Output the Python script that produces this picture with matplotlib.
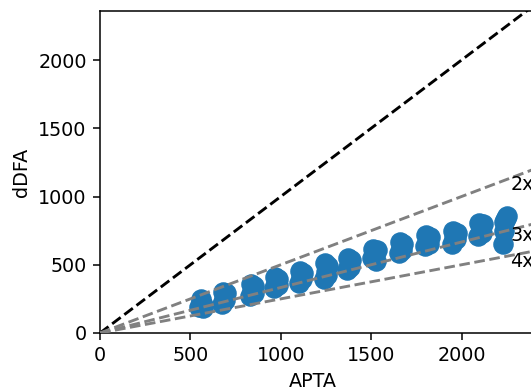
import matplotlib
matplotlib.use("Agg")
import matplotlib.pyplot as plt
import numpy as np

# APTA vs dDFA measurements, grouped by run
apta = [
    548, 560, 572, 556, 568,
    674, 688, 698, 680, 692,
    830, 842, 853, 835, 850,
    962, 975, 986, 968, 982,
    1100, 1112, 1123, 1105, 1120,
    1240, 1250, 1260, 1245, 1258,
    1367, 1378, 1388, 1370, 1385,
    1507, 1520, 1533, 1512, 1528,
    1652, 1665, 1678, 1658, 1672,
    1800, 1812, 1826, 1805, 1820,
    1947, 1960, 1973, 1952, 1968,
    2092, 2105, 2118, 2098, 2112,
    2232, 2245, 2253, 2238, 2235, 2229,
]
ddfa = [
    190, 225, 205, 250, 182,
    215, 255, 290, 302, 240,
    270, 310, 345, 362, 295,
    328, 370, 395, 412, 350,
    365, 415, 440, 456, 392,
    395, 445, 490, 512, 425,
    465, 500, 535, 552, 485,
    548, 580, 605, 615, 530,
    585, 620, 650, 668, 605,
    640, 680, 705, 715, 655,
    655, 700, 735, 750, 685,
    710, 755, 795, 805, 735,
    812, 840, 855, 830, 745, 655,
]

ratios = [2, 3, 4]
ref_max = 2500
label_x = 2270

fs = 13.8
fig = plt.figure(figsize=(5.31, 3.92), dpi=100)
ax = fig.add_axes([100 / 531, 59 / 392, 452 / 531, 322 / 392])

ax.scatter(apta, ddfa, s=190, color="tab:blue", zorder=2)

# 1:1 line plus the 2x / 3x / 4x reference lines
xs = np.array([0, ref_max])
ax.plot(xs, xs, "k--", lw=2.07, zorder=3)
for r in ratios:
    ax.plot(xs, xs / r, "--", color="gray", lw=2.07, zorder=3)
    ax.text(label_x, label_x / r + 25, f"{r}x", fontsize=fs, ha="left", va="top")

ax.set_xlim(0, ref_max)
ax.set_ylim(0, 2359)
ax.set_xticks([0, 500, 1000, 1500, 2000])
ax.set_yticks([0, 500, 1000, 1500, 2000])
ax.tick_params(labelsize=fs, length=4.8, width=1.1, pad=4.8)
for sp in ax.spines.values():
    sp.set_linewidth(1.1)
ax.set_xlabel("APTA", fontsize=fs)
ax.set_ylabel("dDFA", fontsize=fs, labelpad=5.5)
ax.xaxis.set_label_coords(0.471, -0.122)

fig.savefig("out.png", dpi=100)
